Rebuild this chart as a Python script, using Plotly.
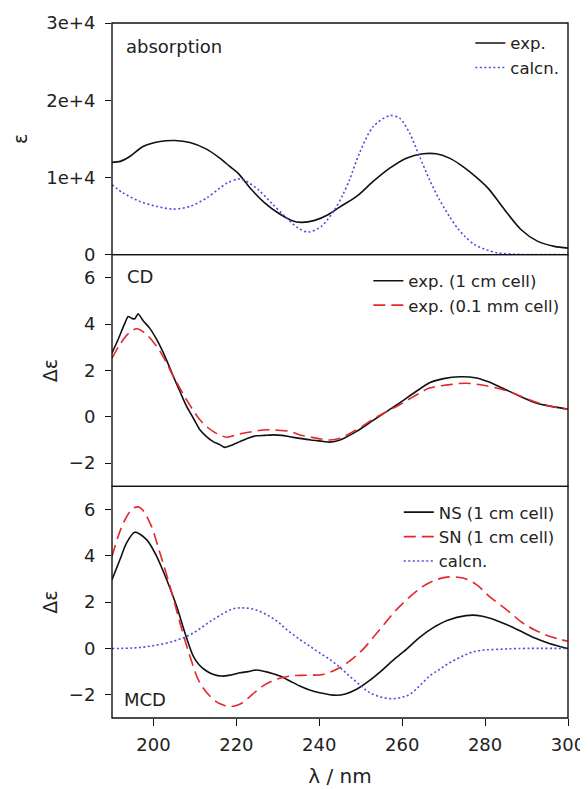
import plotly.graph_objects as go
from plotly.subplots import make_subplots

# Absorption panel -----------------------------------------------------------
abs_exp_wl = [190, 192, 194.3, 197.5, 201.6, 205.2, 208.8, 212.8, 216, 218.4, 220.4, 223.7, 226.9,
              230.1, 233.3, 235.7, 238.9, 242.1, 244.9, 249, 253, 257, 261, 265, 268.2, 271.4,
              273.9, 276.7, 280.7, 284.7, 288.7, 292.7, 296.7, 300]
abs_exp_eps = [11950, 12080, 12710, 14000, 14650, 14780, 14520, 13670, 12500, 11420, 10560, 8400, 6680,
               5390, 4440, 4180, 4440, 5170, 6160, 7540, 9480, 11200, 12500, 13060, 13060, 12500,
               11700, 10560, 8620, 5820, 3230, 1720, 1070, 850]

abs_calc_wl = [190, 192.7, 196.7, 200.8, 204.8, 208.8, 212.8, 216, 218, 220.4, 222, 225.3, 228.5,
               231.7, 234.9, 237.3, 240.5, 243.7, 245.7, 247.3, 249.7, 253, 257, 259.4, 261.8, 264.2,
               266.6, 269, 271.4, 273.4, 275.1, 277.5, 280.7, 283.1, 287, 292, 300]
abs_calc_eps = [9050, 7980, 6900, 6250, 5900, 6250, 7330, 8620, 9350, 9790, 9610, 8400, 6680,
                4960, 3450, 2930, 3660, 5820, 7760, 9700, 13150, 16590, 18010, 17670, 15730, 12710,
                9700, 7110, 4950, 3400, 2370, 1290, 560, 220, 60, 10, 0]

# CD panel -------------------------------------------------------------------
cd_1cm_wl = [190, 191.5, 193, 193.9, 194.8, 195.5, 196.3, 197.5, 199, 200.8, 202.8, 204.8, 206.5, 208,
             209.6, 211.2, 212.8, 214.4, 216, 217.2, 218.5, 220.8, 222.8, 224.8, 226.8, 228.9, 231, 232.9,
             235.3, 238, 240.5, 242.5, 245, 249, 253, 256, 259.4, 263, 266.6, 270, 273.9, 277.9,
             281, 285, 288.5, 292.3, 296, 300]
cd_1cm_de = [2.76, 3.35, 4.0, 4.33, 4.25, 4.23, 4.45, 4.15, 3.85, 3.33, 2.6, 1.74, 1.05, 0.45,
             -0.05, -0.56, -0.85, -1.07, -1.2, -1.32, -1.25, -1.07, -0.92, -0.82, -0.8, -0.78, -0.8, -0.86,
             -0.93, -1.0, -1.05, -1.09, -1.0, -0.63, -0.15, 0.2, 0.6, 1.05, 1.47, 1.65, 1.73, 1.68,
             1.5, 1.17, 0.88, 0.6, 0.45, 0.33]

cd_01mm_wl = [190, 192, 194, 196, 198, 200.8, 202.8, 204.8, 206.5, 208, 209.6, 211.2, 212.8, 214.4,
              216, 217.6, 219.5, 221.6, 224.5, 227.3, 230, 232.9, 235.3, 238, 240.5, 242.5, 245,
              249, 253, 256, 259.4, 263, 266.6, 271, 275.4, 280, 285, 288.5, 292.3, 296, 300]
cd_01mm_de = [2.53, 3.15, 3.6, 3.8, 3.6, 3.04, 2.45, 1.74, 1.2, 0.73, 0.28, -0.13, -0.42, -0.63,
              -0.78, -0.88, -0.8, -0.71, -0.62, -0.56, -0.58, -0.63, -0.78, -0.88, -0.96, -1.0, -0.92,
              -0.56, -0.1, 0.2, 0.52, 0.9, 1.24, 1.38, 1.45, 1.35, 1.14, 0.9, 0.63, 0.45, 0.33]

# MCD panel ------------------------------------------------------------------
mcd_ns_wl = [190, 191.9, 193.5, 195.5, 198.4, 200.8, 203.2, 205.6, 207.6, 209.6, 211, 212.8, 214.5,
             216.4, 218.5, 220.8, 222.8, 224.8, 227.5, 230.5, 232.9, 235.3, 237.5, 240.1, 244.1, 246.5,
             249, 252, 255.4, 258, 261, 264, 267.4, 271, 275.4, 278, 281, 285, 289.1, 292, 295.5, 300]
mcd_ns_de = [2.97, 3.83, 4.55, 5.02, 4.69, 3.97, 2.97, 1.82, 0.67, -0.33, -0.7, -0.97, -1.12,
             -1.19, -1.15, -1.05, -1.0, -0.93, -1.02, -1.19, -1.4, -1.62, -1.78, -1.91, -2.02, -1.95,
             -1.76, -1.4, -0.9, -0.48, -0.04, 0.45, 0.89, 1.22, 1.42, 1.43, 1.32, 1.05, 0.7, 0.45, 0.22, 0.0]

mcd_sn_wl = [190, 192.7, 195.1, 196.7, 199.2, 201.6, 204, 206.4, 208.8, 211.2, 214.4, 216.5, 218.4,
             220.8, 222.8, 224.8, 227, 229.6, 232.9, 235.3, 238, 240.9, 244.9, 249.7, 254.6, 259.4,
             265, 268, 270.7, 274.7, 278, 281, 285, 289.1, 292, 295.5, 300]
mcd_sn_de = [3.97, 5.4, 6.05, 6.09, 5.4, 4.1, 2.68, 1.1, -0.33, -1.48, -2.19, -2.42, -2.51,
             -2.41, -2.15, -1.84, -1.55, -1.33, -1.19, -1.16, -1.15, -1.12, -0.83, -0.19, 0.82, 1.82,
             2.68, 2.95, 3.08, 3.04, 2.75, 2.25, 1.7, 1.1, 0.8, 0.53, 0.31]

mcd_calc_wl = [190, 195, 199.2, 204.8, 209.6, 214.4, 219.2, 222, 224.5, 227.3, 230, 232.1, 235.3,
               237.7, 240, 242.5, 245, 247.3, 250, 252.2, 255, 257.8, 260, 261.8, 264, 266.6, 269,
               271.4, 274, 276.3, 279, 282.7, 288, 300]
mcd_calc_de = [0.0, 0.02, 0.1, 0.31, 0.67, 1.25, 1.71, 1.75, 1.68, 1.46, 1.15, 0.82, 0.39,
               0.1, -0.18, -0.47, -0.82, -1.19, -1.6, -1.91, -2.1, -2.17, -2.1, -1.98, -1.65, -1.19, -0.9,
               -0.62, -0.38, -0.19, -0.08, -0.04, 0.0, 0.0]

# Axis ticks
x_ticks = [200, 220, 240, 260, 280, 300]
abs_ticks = [0, 10000, 20000, 30000]
abs_tick_text = ['0', '1e+4', '2e+4', '3e+4']
de_ticks = [-2, 0, 2, 4, 6]

BLACK = '#111111'
RED = '#e5262b'
BLUE = '#4c4ce0'
FONT = 'DejaVu Sans'

fig = make_subplots(rows=3, cols=1, shared_xaxes=True, vertical_spacing=0)

solid = dict(color=BLACK, width=1.6)
dashed = dict(color=RED, width=1.6, dash='12px,6px')
dotted = dict(color=BLUE, width=1.6, dash='2px,2.5px')

fig.add_trace(go.Scatter(x=abs_exp_wl, y=abs_exp_eps, mode='lines', name='exp.',
                         line=dict(shape='spline', smoothing=0.8, **solid), legend='legend'), row=1, col=1)
fig.add_trace(go.Scatter(x=abs_calc_wl, y=abs_calc_eps, mode='lines', name='calcn.',
                         line=dict(shape='spline', smoothing=0.8, **dotted), legend='legend'), row=1, col=1)

fig.add_trace(go.Scatter(x=cd_1cm_wl, y=cd_1cm_de, mode='lines', name='exp. (1 cm cell)',
                         line=dict(shape='spline', smoothing=0.6, **solid), legend='legend2'), row=2, col=1)
fig.add_trace(go.Scatter(x=cd_01mm_wl, y=cd_01mm_de, mode='lines', name='exp. (0.1 mm cell)',
                         line=dict(shape='spline', **dashed), legend='legend2'), row=2, col=1)

fig.add_trace(go.Scatter(x=mcd_ns_wl, y=mcd_ns_de, mode='lines', name='NS (1 cm cell)',
                         line=dict(shape='spline', smoothing=0.8, **solid), legend='legend3'), row=3, col=1)
fig.add_trace(go.Scatter(x=mcd_sn_wl, y=mcd_sn_de, mode='lines', name='SN (1 cm cell)',
                         line=dict(shape='spline', **dashed), legend='legend3'), row=3, col=1)
fig.add_trace(go.Scatter(x=mcd_calc_wl, y=mcd_calc_de, mode='lines', name='calcn.',
                         line=dict(shape='spline', **dotted), legend='legend3'), row=3, col=1)

tick_font = dict(family=FONT, size=18, color='#222')
axis_common = dict(showline=False, showgrid=False, zeroline=False, tickcolor=BLACK,
                   tickwidth=1.3, tickfont=tick_font, automargin=False)

for r in (1, 2, 3):
    fig.update_xaxes(range=[190, 300], tickvals=x_ticks, row=r, col=1, **axis_common)
fig.update_xaxes(ticks='', showticklabels=False, row=1, col=1)
fig.update_xaxes(ticks='', showticklabels=False, row=2, col=1)
fig.update_xaxes(ticks='outside', ticklen=7, showticklabels=True, ticklabelstandoff=3,
                 title=dict(text='λ / nm', font=dict(family=FONT, size=20, color='#222'), standoff=15),
                 row=3, col=1)

fig.update_yaxes(range=[0, 30000], tickvals=abs_ticks, ticktext=abs_tick_text,
                 ticks='outside', ticklen=6, ticklabelstandoff=6,
                 title=dict(text='ε', font=dict(family=FONT, size=19, color='#222'), standoff=13),
                 row=1, col=1, **axis_common)
for r in (2, 3):
    fig.update_yaxes(range=[-3, 7], tickvals=de_ticks, ticks='outside', ticklen=6, ticklabelstandoff=6,
                     title=dict(text='Δε', font=dict(family=FONT, size=19, color='#222'), standoff=6),
                     row=r, col=1, **axis_common)

# Panel frames
for xr, yr in (('x', 'y'), ('x2', 'y2'), ('x3', 'y3')):
    fig.add_shape(type='rect', xref=xr + ' domain', yref=yr + ' domain', x0=0, x1=1, y0=0, y1=1,
                  line=dict(color=BLACK, width=1.4), layer='above')

# Panel labels
label_font = dict(family=FONT, size=18, color='#222')
fig.add_annotation(text='absorption', xref='x domain', yref='y domain', x=0.026, y=0.897,
                   xanchor='left', yanchor='middle', showarrow=False, font=label_font)
fig.add_annotation(text='CD', xref='x2 domain', yref='y2 domain', x=0.028, y=0.905,
                   xanchor='left', yanchor='middle', showarrow=False, font=label_font)
fig.add_annotation(text='MCD', xref='x3 domain', yref='y3 domain', x=0.022, y=0.078,
                   xanchor='left', yanchor='middle', showarrow=False, font=label_font)

legend_style = dict(xanchor='right', yanchor='top', bgcolor='rgba(0,0,0,0)',
                    font=dict(family=FONT, size=16.5, color='#222'), tracegroupgap=0)

fig.update_layout(
    width=588, height=789,
    margin=dict(l=104, r=28, t=15, b=79, autoexpand=False),
    plot_bgcolor='white', paper_bgcolor='white',
    showlegend=True,
    legend=dict(x=0.992, y=0.996, **legend_style),
    legend2=dict(x=0.992, y=0.654, **legend_style),
    legend3=dict(x=0.982, y=0.321, **legend_style),
)

fig.write_html("out.html")
